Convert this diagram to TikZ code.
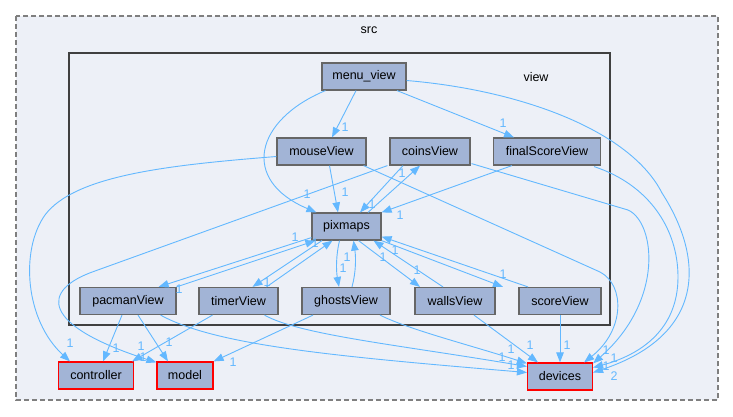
\documentclass[tikz,border=0pt]{standalone}
\usepackage{fontspec}
\setmainfont{Liberation Sans}
\usetikzlibrary{arrows.meta,calc}

\definecolor{edgeblue}{HTML}{63B8FF}
\definecolor{nodefill}{HTML}{A2B4D6}
\definecolor{nodeline}{HTML}{666666}
\definecolor{clusterfill}{HTML}{EDF0F7}
\definecolor{clusterline}{HTML}{7F7F7F}
\definecolor{viewline}{HTML}{404040}

\begin{document}
\begin{tikzpicture}[x=1pt,y=-1pt,
  txt/.style={font=\fontsize{12.5}{14}\selectfont},
  dirnode/.style={txt, draw=nodeline, fill=nodefill, line width=1.2pt,
                  minimum height=27pt, inner sep=0pt},
  extnode/.style={dirnode, draw=red},
  dep/.style={draw=edgeblue, line width=0.9pt,
              -{Triangle[length=10pt,width=7.5pt]}},
  num/.style={txt, text=edgeblue, inner sep=0pt, text height=8.5pt, text depth=0pt},
]
\useasboundingbox (0,0) rectangle (733,416);

% clusters
\draw[clusterline, fill=clusterfill, line width=1.2pt, dash pattern=on 5pt off 3pt]
  (16,16) rectangle (718,400);
\node[txt] (srclabel) at (369,30) {src};
\draw[viewline, fill=clusterfill, line width=2.2pt] (69,53) rectangle (610,325);
\node[txt] (viewlabel) at (536,77) {view};

% directories inside view
\node[dirnode, minimum width=84pt]  (menu)   at (364,76.5)  {menu\_view};
\node[dirnode, minimum width=89pt]  (mouse)  at (321.5,151.5) {mouseView};
\node[dirnode, minimum width=80pt]  (coins)  at (430,151.5) {coinsView};
\node[dirnode, minimum width=107pt] (final)  at (547,151.5) {finalScoreView};
\node[dirnode, minimum width=69pt]  (pix)    at (346.5,226.5) {pixmaps};
\node[dirnode, minimum width=96pt]  (pacman) at (128,301)   {pacmanView};
\node[dirnode, minimum width=79pt]  (timer)  at (238.5,301) {timerView};
\node[dirnode, minimum width=88pt]  (ghosts) at (346,301)   {ghostsView};
\node[dirnode, minimum width=80pt]  (walls)  at (455,301)   {wallsView};
\node[dirnode, minimum width=82pt]  (score)  at (560,301)   {scoreView};

% directories outside view
\node[extnode, minimum width=75pt] (controller) at (96,375.5)  {controller};
\node[extnode, minimum width=56pt] (model)      at (185,375.5) {model};
\node[extnode, minimum width=65pt] (devices)    at (560,376.5) {devices};

% menu_view
\draw[dep] ($(menu.south)+(-8,0)$) -- ($(mouse.north)+(10.5,0)$);
\draw[dep] ($(menu.south)+(33,0)$) -- ($(final.north)+(-33,0)$);
\draw[dep] ($(menu.south west)+(4,0)$) .. controls (255,120) and (240,180) .. ($(pix.north west)+(5,0)$);
\draw[dep] ($(menu.east)+(0,4)$) .. controls (520,90) and (630,130) .. (662,193)
  .. controls (705,260) and (705,335) .. ($(devices.east)+(0,-4)$);

% mouseView
\draw[dep] ($(mouse.south)+(8,0)$) -- ($(pix.north)+(-8.5,0)$);
\draw[dep] ($(mouse.south east)+(-3,0)$) -- (600,272)
  .. controls (625,285) and (625,330) .. ($(devices.north east)+(-9,0)$);
\draw[dep] ($(mouse.west)+(0,5)$) .. controls (170,165) and (75,175) .. (45,215)
  .. controls (20,250) and (25,320) .. ($(controller.north)+(-26,0)$);

% coinsView
\draw[dep] ($(coins.south)+(-27,0)$) -- ($(pix.north)+(13.5,0)$);
\draw[dep] ($(pix.north)+(21.5,0)$) -- ($(coins.south)+(-10,0)$);
\draw[dep] ($(coins.south west)+(-2,0)$) -- (95,271)
  .. controls (40,290) and (40,325) .. ($(model.north west)+(0,1)$);
\draw[dep] ($(coins.south east)+(1,-2)$) -- (628,210)
  .. controls (655,222) and (665,300) .. ($(devices.north east)+(0,1)$);

% finalScoreView
\draw[dep] ($(final.south west)+(19,0)$) -- (pix.north east);
\draw[dep] ($(final.south east)+(-7,1)$) .. controls (650,185) and (678,230) .. (678,277)
  .. controls (678,330) and (640,355) .. ($(devices.east)+(0,-9)$);

% pixmaps and its users
\draw[dep] ($(pix.south west)+(0,-3)$) -- ($(pacman.north east)+(-18,0)$);
\draw[dep] (pacman.north east) -- ($(pix.south west)+(4,0)$);
\draw[dep] ($(pix.south)+(-24.5,0)$) -- ($(timer.north)+(14,0)$);
\draw[dep] ($(timer.north)+(28,0)$) -- ($(pix.south)+(-14,0)$);
\draw[dep] ($(pix.south)+(-7,0)$) .. controls (336,255) and (336,270) .. ($(ghosts.north)+(-7,0)$);
\draw[dep] ($(ghosts.north)+(6,0)$) .. controls (356,272) and (356,258) .. ($(pix.south)+(7,0)$);
\draw[dep] ($(pix.south)+(12,0)$) -- ($(walls.north)+(-35,0)$);
\draw[dep] ($(walls.north)+(-12,0)$) -- ($(pix.south)+(27,0)$);
\draw[dep] (pix.south east) -- ($(score.north)+(-57,0)$);
\draw[dep] ($(score.north)+(-32,0)$) -- ($(pix.south east)+(0,-4)$);

% pacmanView
\draw[dep] ($(pacman.south)+(-6,0)$) -- ($(controller.north)+(7,0)$);
\draw[dep] ($(pacman.south)+(10,0)$) -- ($(model.north)+(-17,0)$);
\draw[dep] ($(pacman.south east)+(-16,0)$) .. controls (215,345) and (330,356) .. ($(devices.west)+(0,-4)$);

% timerView
\draw[dep] ($(timer.south)+(-26,0)$) -- ($(controller.north east)+(-2,0)$);
\draw[dep] ($(timer.south)+(26,0)$) .. controls (300,335) and (400,345) .. ($(devices.west)+(0,-10)$);

% ghostsView
\draw[dep] ($(ghosts.south)+(-33,0)$) -- (model.north east);
\draw[dep] ($(ghosts.south)+(34,0)$) .. controls (410,330) and (470,345) .. ($(devices.north west)+(0,1)$);

% wallsView, scoreView
\draw[dep] ($(walls.south)+(19,0)$) -- ($(devices.north)+(-22,0)$);
\draw[dep] (score.south) -- (score.south |- devices.north);

% edge counts
\node[num] (n1)  at (345,127) {1};
\node[num] (n2)  at (503,123) {1};
\node[num] (n3)  at (307,194) {1};
\node[num] (n4)  at (345,192) {1};
\node[num] (n5)  at (372,204) {1};
\node[num] (n6)  at (402,173) {1};
\node[num] (n7)  at (400,215) {1};
\node[num] (n8)  at (295,237) {1};
\node[num] (n9)  at (179,289) {1};
\node[num] (n10) at (267,282) {1};
\node[num] (n11) at (315,243) {1};
\node[num] (n12) at (343,268) {1};
\node[num] (n13) at (347,257) {1};
\node[num] (n14) at (417,270) {1};
\node[num] (n15) at (383,257) {1};
\node[num] (n16) at (503,274) {1};
\node[num] (n17) at (395,250) {1};
\node[num] (n18) at (70,343) {1};
\node[num] (n19) at (116,348) {1};
\node[num] (n20) at (141,346) {1};
\node[num] (n21) at (143,357) {1};
\node[num] (n22) at (169,342) {1};
\node[num] (n23) at (233,362) {1};
\node[num] (n24) at (530,345) {1};
\node[num] (n25) at (567,345) {1};
\node[num] (n26) at (511,349) {1};
\node[num] (n27) at (502,357) {1};
\node[num] (n28) at (511,365) {1};
\node[num] (n29) at (606,350) {1};
\node[num] (n30) at (614,358) {1};
\node[num] (n31) at (606,366) {1};
\node[num] (n32) at (614,376) {2};
\end{tikzpicture}
\end{document}
